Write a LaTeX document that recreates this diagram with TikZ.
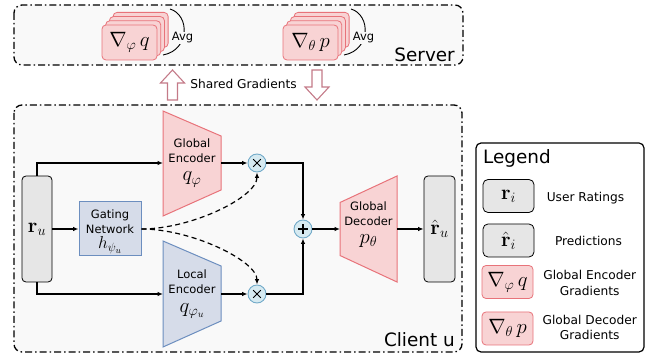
\documentclass[tikz,border=0pt]{standalone}
\usepackage[no-math]{fontspec}
\setmainfont{DejaVu Sans}
\usetikzlibrary{arrows.meta}
\definecolor{pinkfill}{HTML}{F8D3D4}
\definecolor{pinkdraw}{HTML}{E8737A}
\definecolor{bluefill}{HTML}{D6DCE9}
\definecolor{bluedraw}{HTML}{6C8EBF}
\definecolor{circfill}{HTML}{D6EAF1}
\definecolor{circdraw}{HTML}{73ABC9}
\definecolor{boxgray}{HTML}{E6E6E6}
\definecolor{bgcol}{HTML}{F9F9F9}
\definecolor{arrowcol}{HTML}{C47A88}
\tikzset{
  region/.style={draw=black, fill=bgcol, line width=1.3pt, rounded corners=8pt,
    dash pattern=on 7pt off 3pt on 1.5pt off 3pt},
  lbl/.style={font=\fontsize{11.5}{14}\selectfont, inner sep=0pt, anchor=base},
  leglbl/.style={font=\fontsize{12.2}{14}\selectfont, inner sep=0pt, anchor=base},
  bigtxt/.style={font=\fontsize{18.4}{20}\selectfont, inner sep=0pt},
  mth/.style={font=\fontsize{19.5}{21}\selectfont, inner sep=0pt},
  card/.style={draw=pinkdraw, fill=pinkfill, rounded corners=4pt, line width=0.8pt,
    minimum width=55pt, minimum height=35pt, inner sep=0pt, font=\fontsize{20.5}{22}\selectfont},
  legcard/.style={card, minimum width=51pt, minimum height=33pt},
  graybox/.style={draw=black, fill=boxgray, rounded corners=4pt, line width=0.8pt, inner sep=0pt,
    font=\fontsize{20.5}{22}\selectfont},
  pinkshape/.style={draw=pinkdraw, fill=pinkfill, line width=1pt},
  blueshape/.style={draw=bluedraw, fill=bluefill, line width=1pt},
  opcirc/.style={circle, draw=circdraw, fill=circfill, line width=0.9pt, minimum size=18pt, inner sep=0pt},
  conn/.style={draw=black, line width=1.2pt, -{Latex[length=5.5pt,width=4.5pt]}},
  dconn/.style={conn, dash pattern=on 5pt off 3.5pt},
  blockarrow/.style={draw=arrowcol, fill=white, line width=1.1pt, line join=miter},
}
\begin{document}
\begin{tikzpicture}[x=1pt,y=-1pt]
\useasboundingbox (0,0) rectangle (654,358);
\fill[white] (0,0) rectangle (654,358);

% ---------- Server ----------
\draw[region] (14,5) rectangle (463,65);
\foreach \s/\nm/\tx in {0/gq/{$\nabla_{\varphi}\,q$}, 181/gp/{$\nabla_{\theta}\,p$}}{
  \foreach \i in {3,2,1}{
    \node[card] (\nm back\i) at ([xshift=\i*3.7pt, yshift=\i*4.2pt]129.5+\s,42.5) {};
  }
  \node[card] (\nm) at (129.5+\s,42.5) {\tx};
  \coordinate (\nm avgA) at (170+\s,9);
  \coordinate (\nm avgB) at (163+\s,55);
  \draw[line width=0.9pt] (\nm avgA) .. controls (190+\s,15) and (190+\s,50) .. (\nm avgB);
  \node[lbl, fill=bgcol, inner sep=0.8pt] (\nm avg) at (182.5+\s,41) {Avg};
}
\node[bigtxt, anchor=base east] (server) at (455,61.5) {Server};

% ---------- Shared gradients arrows ----------
\draw[blockarrow] (172.5,70) -- (184.5,83) -- (177.5,83) -- (177.5,100) -- (167.5,100) -- (167.5,83) -- (160.5,83) -- cycle;
\draw[blockarrow] (317,100) -- (329,87) -- (322,87) -- (322,70) -- (312,70) -- (312,87) -- (305,87) -- cycle;
\node[font=\fontsize{12.2}{14}\selectfont, inner sep=0pt, anchor=base] (shared) at (243.5,89) {Shared Gradients};

% ---------- Client ----------
\draw[region] (14,105) rectangle (462,352);
\node[bigtxt, anchor=base east] (client) at (455,346.5) {Client u};

\node[graybox, minimum width=30pt, minimum height=106pt] (ru) at (37,229) {$\mathbf{r}_u$};
\node[graybox, minimum width=31pt, minimum height=106pt] (rhat) at (439.5,229) {$\hat{\mathbf{r}}_u$};

\node[blueshape, minimum width=62pt, minimum height=54pt, inner sep=0pt] (gate) at (110,229) {};
\node[lbl] (gate1) at (110,219) {Gating};
\node[lbl] (gate2) at (110,233.5) {Network};
\node[mth, anchor=base, font=\fontsize{18.5}{20}\selectfont] (gate3) at (110,249) {$h_{\psi_u}$};

% global encoder
\draw[pinkshape] (163,111) -- (221,136) -- (221,190) -- (163,216) -- cycle;
\coordinate (geL) at (163,163);
\coordinate (geR) at (221,163);
\node[lbl] (ge1) at (192,148) {Global};
\node[lbl] (ge2) at (192,163) {Encoder};
\node[mth, anchor=base] (ge3) at (192,181) {$q_{\varphi}$};

% local encoder
\draw[blueshape] (163,241) -- (221,266) -- (221,321) -- (163,347) -- cycle;
\coordinate (leL) at (163,294);
\coordinate (leR) at (221,294);
\node[lbl] (le1) at (192,279) {Local};
\node[lbl] (le2) at (192,294) {Encoder};
\node[mth, anchor=base] (le3) at (192,312.5) {$q_{\varphi_u}$};

% decoder
\draw[pinkshape] (340,202.5) -- (397,176) -- (397,282) -- (340,255.5) -- cycle;
\coordinate (deL) at (340,229);
\coordinate (deR) at (397,229);
\node[lbl] (de1) at (368.5,210.5) {Global};
\node[lbl] (de2) at (368.5,225.5) {Decoder};
\node[mth, anchor=base] (de3) at (368.5,243.5) {$p_{\theta}$};

% operators
\node[opcirc] (mul1) at (257,163) {};
\node[opcirc] (mul2) at (257,294) {};
\node[opcirc] (plus) at (303,229) {};
\foreach \n in {mul1,mul2}{
  \draw[line width=1pt] ([xshift=-3.8pt,yshift=-3.8pt]\n.center) -- ([xshift=3.8pt,yshift=3.8pt]\n.center);
  \draw[line width=1pt] ([xshift=-3.8pt,yshift=3.8pt]\n.center) -- ([xshift=3.8pt,yshift=-3.8pt]\n.center);
}
\draw[line width=1.3pt] ([xshift=-5pt]plus.center) -- ([xshift=5pt]plus.center);
\draw[line width=1.3pt] ([yshift=-5pt]plus.center) -- ([yshift=5pt]plus.center);

% connectors
\draw[conn] (ru.north) |- (geL);
\draw[conn] (ru.south) |- (leL);
\draw[conn] (ru.east) -- (gate.west);
\draw[conn] (geR) -- (mul1.west);
\draw[conn] (leR) -- (mul2.west);
\draw[conn] (mul1.east) -| (plus.north);
\draw[conn] (mul2.east) -| (plus.south);
\draw[conn] (plus.east) -- (deL);
\draw[conn] (deR) -- (rhat.west);
\draw[dconn] (gate.east) .. controls (192,229) and (257,197) .. (mul1.south);
\draw[dconn] (gate.east) .. controls (192,229) and (257,261) .. (mul2.north);

% ---------- Legend ----------
\draw[draw=black, fill=white, line width=1.2pt, rounded corners=5pt] (476,143) rectangle (644,352);
\node[bigtxt, anchor=base west] (legend) at (483,164) {Legend};
\node[graybox, minimum width=51pt, minimum height=33pt, rounded corners=5pt] (l1) at (508.5,196) {$\mathbf{r}_i$};
\node[leglbl] (l1t) at (585.5,202) {User Ratings};
\node[graybox, minimum width=51pt, minimum height=33pt, rounded corners=5pt] (l2) at (508.5,240.5) {$\hat{\mathbf{r}}_i$};
\node[leglbl] (l2t) at (588.5,246) {Predictions};
\node[legcard] (l3) at (507.5,282) {$\nabla_{\varphi}\,q$};
\node[leglbl] (l3a) at (589.7,280) {Global Encoder};
\node[leglbl] (l3b) at (589.7,295.5) {Gradients};
\node[legcard] (l4) at (507.5,328.5) {$\nabla_{\theta}\,p$};
\node[leglbl] (l4a) at (589.7,325) {Global Decoder};
\node[leglbl] (l4b) at (589.7,340) {Gradients};
\end{tikzpicture}
\end{document}
